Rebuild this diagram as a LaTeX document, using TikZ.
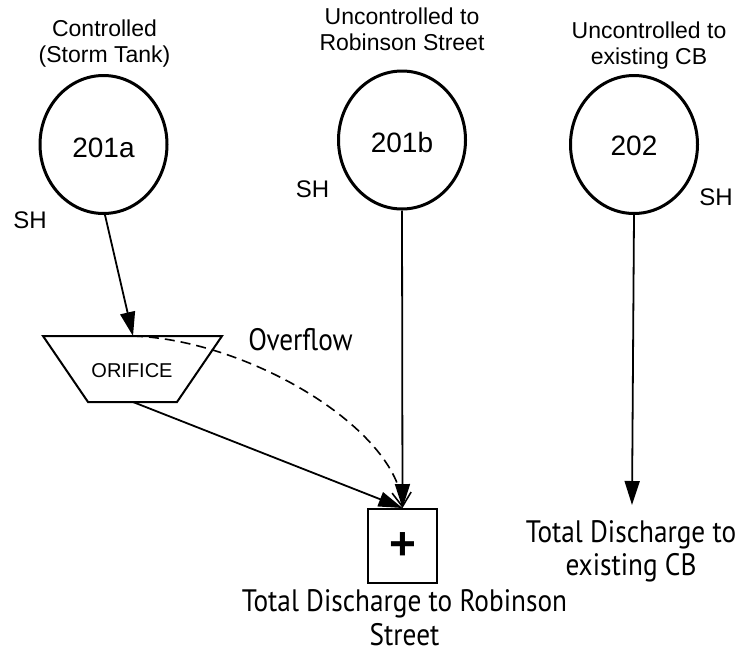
\documentclass[tikz,border=0pt]{standalone}
\usepackage{fontspec}
\setmainfont{Liberation Sans}
\newfontfamily\lowfont{PT Sans}
\usetikzlibrary{arrows.meta,shapes.geometric}
\begin{document}
\begin{tikzpicture}[x=1pt,y=-1pt,
  catch/.style={draw,ellipse,line width=3pt,minimum width=127pt,minimum height=138pt,inner sep=0pt,
    font=\fontsize{28}{30}\selectfont},
  toplabel/.style={anchor=base,align=center,inner sep=0pt,font=\fontsize{23}{26}\selectfont},
  shlabel/.style={anchor=base,inner sep=0pt,font=\fontsize{24}{26}\selectfont},
  lowlabel/.style={anchor=base,inner sep=0pt},
  flow/.style={line width=1.8pt,-{Triangle[length=24pt,width=15pt]}},
  over/.style={line width=1.6pt,dash pattern=on 10pt off 6pt,-{Straight Barb[length=14pt,width=19pt,line width=1.6pt]}},
  sumbox/.style={draw,line width=2pt,minimum width=69pt,minimum height=74pt,inner sep=0pt,
    font=\fontsize{46}{48}\selectfont\bfseries}
]
\useasboundingbox (0,0) rectangle (741,654);
% catchments
\node[catch] (c1) at (103.5,144.5) {};
\node[catch] (c2) at (402,140) {};
\node[catch] (c3) at (634,144.5) {};
\node[anchor=base,inner sep=0pt,font=\fontsize{28}{30}\selectfont] (t1) at (103.5,157) {201a};
\node[anchor=base,inner sep=0pt,font=\fontsize{28}{30}\selectfont] (t2) at (402,152) {201b};
\node[anchor=base,inner sep=0pt,font=\fontsize{28}{30}\selectfont] (t3) at (634,155) {202};
% labels above
\node[toplabel] (l1) at (104.5,62) {Controlled\\(Storm Tank)};
\node[toplabel] (l2) at (402,50) {Uncontrolled to\\Robinson Street};
\node[toplabel] (l3) at (649,64) {Uncontrolled to\\existing CB};
\node[shlabel] (s1) at (30,228) {SH};
\node[shlabel] (s2) at (312.5,197) {SH};
\node[shlabel] (s3) at (716,205) {SH};
% orifice
\draw[line width=2pt] (43,336) -- (222,336) -- (177,402) -- (88,402) -- cycle;
\coordinate (orT) at (133,336);
\coordinate (orB) at (133,402);
\node[anchor=base,inner sep=0pt,font=\fontsize{20}{22}\selectfont] (orf) at (132,377) {ORIFICE};
% sum box
\node[sumbox] (sum) at (402.5,546) {+};
\coordinate (e3) at (632,505);
% connectors
\draw[flow] (c1.south) ++(1.5,0) -- (orT);
\draw[flow] (orB) -- (sum.north);
\draw[flow] (c2.south) -- (sum.north);
\draw[over] (orT) .. controls (250,340) and (398,430) .. (sum.north);
\draw[flow] (c3.south) -- (e3);
% lower labels
\node[lowlabel] (ov) at (300.5,350) {\lowfont\fontsize{31}{33}\selectfont\scalebox{0.88}[1]{Overflow}};
\node[lowlabel] (d1) at (404.5,611) {\lowfont\fontsize{31}{34}\selectfont\scalebox{0.88}[1]{\begin{tabular}[t]{@{}c@{}}Total Discharge to Robinson\\Street\end{tabular}}};
\node[lowlabel] (d2) at (631,542) {\lowfont\fontsize{31}{33}\selectfont\scalebox{0.88}[1]{\begin{tabular}[t]{@{}c@{}}Total Discharge to\\existing CB\end{tabular}}};
\end{tikzpicture}
\end{document}
